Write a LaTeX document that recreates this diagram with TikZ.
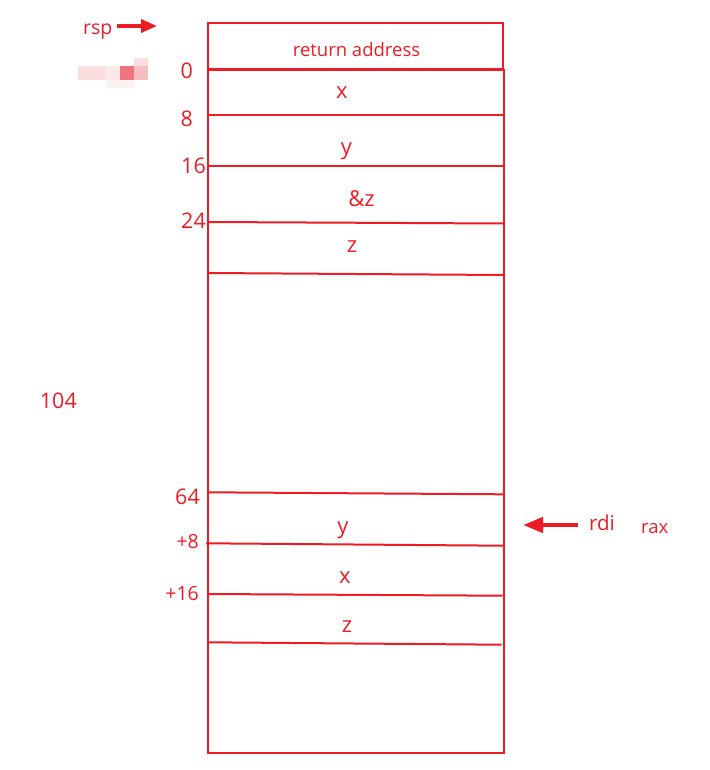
\documentclass[tikz,border=0pt]{standalone}
\usepackage{fontspec}
\setmainfont{Open Sans}
\usetikzlibrary{arrows.meta}
\definecolor{stackred}{RGB}{237,28,36}
\definecolor{blurlight}{RGB}{251,222,224}
\definecolor{blurmid}{RGB}{247,190,194}
\definecolor{blurdark}{RGB}{240,116,124}

\begin{document}
\begin{tikzpicture}[x=1pt,y=-1pt,
    frame/.style={draw=stackred, line width=2pt},
    slot/.style={text=stackred, inner sep=0pt, anchor=base, font=\fontsize{22}{26}\selectfont},
    offset/.style={text=stackred, inner sep=0pt, anchor=base east, font=\fontsize{21.5}{25}\selectfont},
    smalloffset/.style={offset, font=\fontsize{19.5}{23}\selectfont},
    register/.style={text=stackred, inner sep=0pt, anchor=base west, font=\fontsize{20.5}{24}\selectfont},
    pointer/.style={draw=stackred, line width=4.5pt, -{Triangle[length=20pt,width=15pt]}}]

            \useasboundingbox (0,0) rectangle (709,770);

            \draw[frame] (208,23) rectangle (503,69);
            \draw[frame] (208,70) rectangle (504,753);

            \draw[frame] (208,115.5)--(503,115.5);
            \draw[frame] (208,166)--(503,166);
            \draw[frame] (208,222)--(503,223.5);
            \draw[frame] (208,273)--(503,275);
            \draw[frame] (208,492.3)--(503,494.3);
            \draw[frame] (206,543.3)--(503,545.7);
            \draw[frame] (208,594)--(502.7,595.7);
            \draw[frame] (208,642.3)--(501.7,644.7);

            \node[slot, font=\fontsize{18.5}{22}\selectfont] (retaddr) at (356.5,57) {return address};
            \node[slot] (slotx) at (342,99) {x};
            \node[slot] (sloty) at (346.5,154.5) {y};
            \node[slot] (slotaddrz) at (361.5,206) {\&z};
            \node[slot] (slotz) at (352,252) {z};
            \node[slot] (boxy) at (343,533) {y};
            \node[slot] (boxx) at (345,583) {x};
            \node[slot] (boxz) at (347,632) {z};

            \node[offset] (offzero) at (193,79) {0};
            \node[offset] (offeight) at (193,127) {8};
            \node[offset] (offsixteen) at (206,173) {16};
            \node[offset] (offtwentyfour) at (206,228) {24};
            \node[offset] (offsixtyfour) at (200,504) {64};
            \node[offset] (total) at (77,408) {104};
            \node[smalloffset] (pluseight) at (199,548) {+8};
            \node[smalloffset] (plussixteen) at (199,600) {+16};

            \node[register, font=\fontsize{19.5}{23}\selectfont] (rsp) at (83,35) {rsp};
            \coordinate (rsptail) at (117,26);
            \coordinate (rsptip) at (157,26);
            \draw[pointer, line width=3.6pt, -{Triangle[length=16pt,width=13pt]}] (rsptail)--(rsptip);

            \node[register] (rdi) at (589,530) {rdi};
            \node[register, font=\fontsize{18.5}{22}\selectfont] (rax) at (641,533) {rax};
            \coordinate (rditail) at (578,525);
            \coordinate (rditip) at (523,525);
            \draw[pointer] (rditail)--(rditip);

            \fill[blurlight] (78,66) rectangle (92,80);
            \fill[blurlight] (92,66) rectangle (106,80);
            \fill[blurlight!70] (106,66) rectangle (120,80);
            \fill[blurdark] (120,66) rectangle (134,80);
            \fill[blurmid] (134,66) rectangle (148,80);
            \fill[blurlight] (134,58) rectangle (148,66);
            \fill[blurlight!40] (106,80) rectangle (134,88);

        \end{tikzpicture}
\end{document}
